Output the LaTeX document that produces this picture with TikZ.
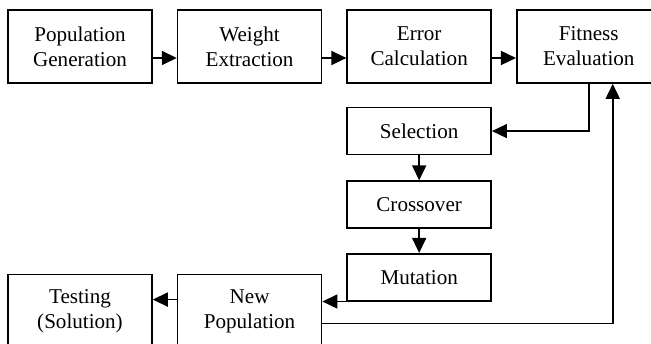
\documentclass[tikz,border=0pt]{standalone}
\usepackage{fontspec}
\setmainfont{Liberation Serif}
\usetikzlibrary{positioning,arrows.meta,calc}
\tikzset{
  tbox/.style={draw,line width=0.9pt,minimum width=2.88cm,minimum height=1.46cm,
               font=\fontsize{12}{14.2}\selectfont,align=center,inner sep=0pt},
  sbox/.style={tbox,minimum height=0.94cm},
  arr/.style={-{Triangle[length=0.3cm,width=0.28cm]},line width=0.9pt},
}

\begin{document}
\begin{tikzpicture}[node distance=0.48cm]
  \useasboundingbox (0,0) rectangle (13.02,-6.88);
  % main chain
  \node[tbox] (pg) at (1.6,-0.93) {Population\\Generation};
  \node[tbox,right=of pg] (we) {Weight\\Extraction};
  \node[tbox,right=of we] (ec) {Error\\Calculation};
  \node[tbox,right=of ec] (fe) {Fitness\\Evaluation};
  % GA operators
  \node[sbox,below=0.46cm of ec] (sel) {Selection};
  \node[sbox,below=0.5cm of sel] (cro) {Crossover};
  \node[sbox,below=of cro] (mut) {Mutation};
  % bottom row
  \node[tbox,below=3.8cm of we] (np) {New\\Population};
  \node[tbox,left=of np] (ts) {Testing\\(Solution)};
  \draw[arr] ([yshift=-0.23cm]pg.east) -- ([yshift=-0.23cm]we.west);
  \draw[arr] ([yshift=-0.23cm]we.east) -- ([yshift=-0.23cm]ec.west);
  \draw[arr] ([yshift=-0.23cm]ec.east) -- ([yshift=-0.23cm]fe.west);
  \draw[arr] (fe.south) |- (sel.east);
  \draw[arr] (sel) -- (cro); \draw[arr] (cro) -- (mut);
  \draw[arr] (mut.south west) -- (mut.south west -| np.east);
  \draw[arr] ([yshift=0.23cm]np.west) -- ([yshift=0.23cm]ts.east);
  \draw[arr] ([yshift=-0.25cm]np.east) -| ([xshift=0.48cm]fe.south);
\end{tikzpicture}
\end{document}
